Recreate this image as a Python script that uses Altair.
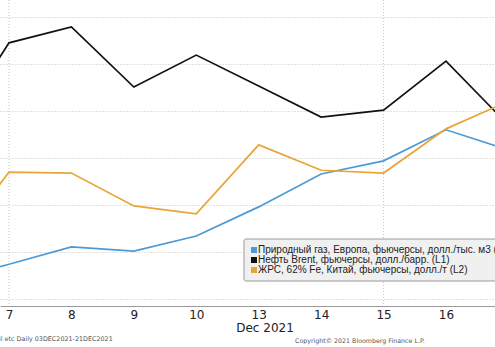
import altair as alt
import pandas as pd

# ---- data (values in grid units, gridline spacing = 1) ----
day_labels = ["6", "7", "8", "9", "10", "13", "14", "15", "16", "17"]
gas = [0.40, 0.74, 1.11, 1.02, 1.34, 1.96, 2.66, 2.94, 3.60, 3.17]
brent = [3.38, 5.45, 5.79, 4.51, 5.19, 4.53, 3.87, 4.02, 5.06, 3.70]
ore = [0.94, 2.70, 2.68, 1.98, 1.81, 3.28, 2.74, 2.68, 3.62, 4.21]

series_names = [
    "Природный газ, Европа, фьючерсы, долл./тыс. м3 (R1)",
    "Нефть Brent, фьючерсы, долл./барр. (L1)",
    "ЖРС, 62% Fe, Китай, фьючерсы, долл./т (L2)",
]
series_colors = ["#4a9ad8", "#111111", "#e9a537"]
legend_labels = series_names
hgrid_values = [0, 1, 2, 3, 4, 5, 6]
vgrid_idx = [1, 7]
tick_idx = [1, 2, 3, 4, 5, 6, 7, 8]
axis_title = "Dec 2021"
footer_left = "il etc  Daily 03DEC2021-21DEC2021"
footer_right = "Copyright© 2021 Bloomberg Finance L.P."

rows = []
for name, vals in zip(series_names, [gas, brent, ore]):
    for i, v in enumerate(vals):
        rows.append({"idx": i, "series": name, "v": v})
df = pd.DataFrame(rows)

xscale = alt.Scale(domain=[0.856, 8.785], nice=False, zero=False)
yscale = alt.Scale(domain=[-0.149, 6.362], nice=False, zero=False)
label_expr = "[" + ",".join("'%s'" % d for d in day_labels) + "][datum.value]"

xaxis = alt.Axis(
    values=tick_idx,
    labelExpr=label_expr,
    grid=False,
    ticks=False,
    domain=True,
    domainColor="#9a9a9a",
    labelFont="DejaVu Sans",
    labelFontSize=12,
    labelColor="#222222",
    labelPadding=3,
    title=None,
)
yaxis = alt.Axis(
    values=hgrid_values,
    grid=True,
    gridColor="#c4c4c4",
    gridDash=[1, 2],
    labels=False,
    ticks=False,
    domain=False,
    title=None,
)

lines = alt.Chart(df).mark_line(strokeWidth=1.7, clip=True).encode(
    x=alt.X("idx:Q", scale=xscale, axis=xaxis),
    y=alt.Y("v:Q", scale=yscale, axis=yaxis),
    color=alt.Color(
        "series:N",
        scale=alt.Scale(domain=series_names, range=series_colors),
        legend=None,
    ),
)

vgrid = alt.Chart(pd.DataFrame({"idx": vgrid_idx})).mark_rule(
    color="#c4c4c4", strokeDash=[1, 2], strokeWidth=1
).encode(x=alt.X("idx:Q", scale=xscale, axis=xaxis))

one = pd.DataFrame({"a": [0]})

legend_box = alt.Chart(one).mark_rect(
    fill="#f0f0f0", stroke="#9a9a9a", strokeWidth=1, cornerRadius=2
).encode(x=alt.value(244), x2=alt.value(530), y=alt.value(239), y2=alt.value(281))

layers = [vgrid, lines, legend_box]
for k, (lab, col) in enumerate(zip(legend_labels, series_colors)):
    yy = 250 + k * 10
    layers.append(
        alt.Chart(one).mark_square(size=36, color=col, opacity=1).encode(
            x=alt.value(254), y=alt.value(yy)
        )
    )
    layers.append(
        alt.Chart(one).mark_text(
            text=lab, align="left", baseline="middle", font="Liberation Sans",
            fontSize=10, color="#222222"
        ).encode(x=alt.value(258), y=alt.value(yy))
    )

layers.append(
    alt.Chart(one).mark_text(
        text=axis_title, align="center", baseline="middle", font="DejaVu Sans",
        fontSize=12, color="#222222"
    ).encode(x=alt.value(265), y=alt.value(328))
)
layers.append(
    alt.Chart(one).mark_text(
        text=footer_left, align="left", baseline="middle", font="DejaVu Sans",
        fontSize=6.4, color="#555555"
    ).encode(x=alt.value(-1), y=alt.value(339))
)
layers.append(
    alt.Chart(one).mark_text(
        text=footer_right, align="left", baseline="middle", font="DejaVu Sans",
        fontSize=6.3, color="#555555"
    ).encode(x=alt.value(295), y=alt.value(341))
)

chart = alt.layer(*layers).properties(
    width=495,
    height=306,
    autosize=alt.AutoSizeParams(type="none"),
    padding={"left": 0, "top": 0, "right": 0, "bottom": 41},
    background="white",
).configure_view(stroke=None)

chart.save("out.html", embed_options={"renderer": "svg", "actions": False})
